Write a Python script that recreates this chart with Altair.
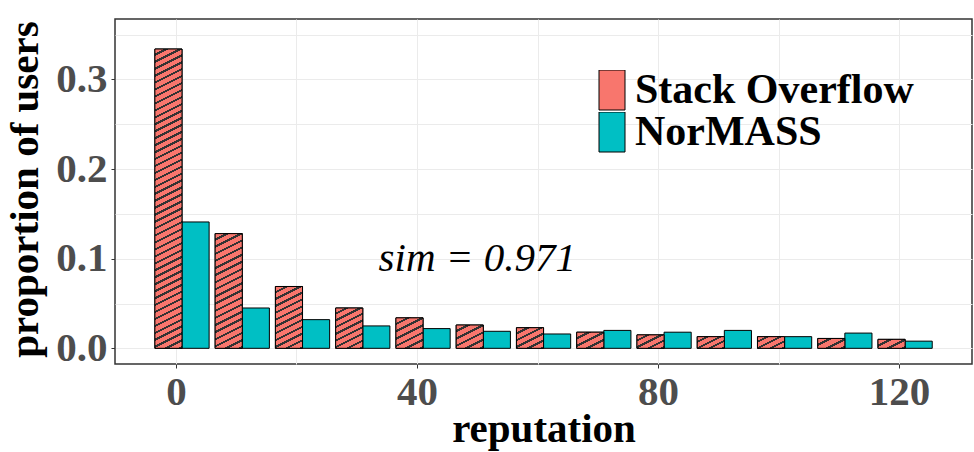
import altair as alt
import pandas as pd

# ---------------- data ----------------
reputation = [1, 11, 21, 31, 41, 51, 61, 71, 81, 91, 101, 111, 121]
stack_overflow = [0.334, 0.128, 0.069, 0.045, 0.034, 0.026, 0.023, 0.018, 0.015, 0.013, 0.013, 0.011, 0.010]
normass = [0.141, 0.045, 0.032, 0.025, 0.022, 0.019, 0.016, 0.020, 0.018, 0.020, 0.013, 0.017, 0.008]
series = ["Stack Overflow", "NorMASS"]
x_ticks = [0, 40, 80, 120]
y_ticks = [0.0, 0.1, 0.2, 0.3]
annotation_text = ["sim = 0.971"]
annotation_x = [50]
annotation_y = [0.1]

# ---------------- styling ----------------
FONT = "Liberation Serif"
SO_COLOR = "#F8766D"
NM_COLOR = "#00BFC4"
HATCH_COLOR = "#333333"
W, H = 857, 345
X_DOMAIN = [-10.12, 132.1]
Y_DOMAIN = [-0.0175, 0.3675]
BAR_W = 4.5
PERIOD = 7.0   # px between hatch lines (vertical)
SLOPE = 0.5    # rise of hatch lines per px
DARK_FRAC = 0.32

x_grid = sorted(set(x_ticks + [(a + b) / 2 for a, b in zip(x_ticks[:-1], x_ticks[1:])]))
y_grid = sorted(set(y_ticks + [round(v + 0.05, 2) for v in y_ticks]))

rows = []
for r, a, b in zip(reputation, stack_overflow, normass):
    rows.append({"reputation": r, "source": series[0], "proportion": a})
    rows.append({"reputation": r, "source": series[1], "proportion": b})
df = pd.DataFrame(rows)

px_y = H / (Y_DOMAIN[1] - Y_DOMAIN[0])
px_x = W / (X_DOMAIN[1] - X_DOMAIN[0])
bw = BAR_W * px_x


def hatch_px(h, w):
    h = max(h, 1.0)
    vx = SLOPE * w / h
    k = (vx + 1) / (1 + vx * vx)
    n = max(1, round(h * (vx + 1) / PERIOD))
    stops = []
    for i in range(n):
        a = i / n
        b = (i + 1 - DARK_FRAC) / n
        c = (i + 1) / n
        stops += [
            {"offset": a, "color": SO_COLOR},
            {"offset": b, "color": SO_COLOR},
            {"offset": b, "color": HATCH_COLOR},
            {"offset": c, "color": HATCH_COLOR},
        ]
    return {"gradient": "linear", "x1": 0, "y1": 0, "x2": vx * k, "y2": k, "stops": stops}


def hatch(value):
    return hatch_px(value * px_y, bw)


xscale = alt.Scale(domain=X_DOMAIN, nice=False, zero=False)
yscale = alt.Scale(domain=Y_DOMAIN, nice=False, zero=False)

x_axis = alt.Axis(
    values=x_grid,
    labelExpr="datum.value % 40 === 0 ? datum.label : ''",
    tickOpacity={"condition": {"test": "datum.value % 40 !== 0", "value": 0}, "value": 1},
    labelPadding=4,
    titleY=77,
    titleBaseline="alphabetic",
)
y_axis = alt.Axis(
    values=y_grid,
    format=".1f",
    labelExpr="abs(datum.value * 10 - round(datum.value * 10)) > 0.01 ? '' : datum.label",
    tickOpacity={"condition": {"test": "abs(datum.value * 10 - round(datum.value * 10)) > 0.01", "value": 0}, "value": 1},
    labelPadding=4,
    titleX=-90,
    titleY=170,
    titleAlign="center",
    titleBaseline="middle",
)

base = alt.Chart(df).transform_calculate(
    x0=f"datum.source === '{series[0]}' ? datum.reputation - {BAR_W} : datum.reputation",
    x1=f"datum.source === '{series[0]}' ? datum.reputation : datum.reputation + {BAR_W}",
)

bars = base.mark_bar(stroke="black", strokeWidth=1).encode(
    x=alt.X("x0:Q", scale=xscale, axis=x_axis, title="reputation"),
    x2="x1:Q",
    y=alt.Y("proportion:Q", scale=yscale, axis=y_axis, title="proportion of users"),
    y2=alt.datum(0),
    color=alt.Color(
        "source:N",
        scale=alt.Scale(domain=series, range=[SO_COLOR, NM_COLOR]),
        sort=series,
        legend=alt.Legend(
            title=None,
            orient="none",
            legendX=476,
            legendY=51,
            symbolType="M-0.65,-1H0.65V1H-0.65Z",
            symbolSize=1600,
            symbolStrokeColor="black",
            symbolStrokeWidth=1,
            symbolOpacity=1,
            labelFont=FONT,
            labelFontSize=42,
            labelFontWeight="bold",
            labelColor="black",
            labelOffset=2,
            labelLimit=500,
            rowPadding=0,
            clipHeight=40,
            padding=0,
        ),
    ),
)

fill_cond = alt.FillValue(
    value=SO_COLOR,
    condition=[
        {"test": f"datum.reputation === {r}", "value": hatch(v)}
        for r, v in zip(reputation, stack_overflow)
    ],
)

stripes = base.transform_filter(f"datum.source === '{series[0]}'").mark_bar(
    stroke="black", strokeWidth=1
).encode(
    x=alt.X("x0:Q", scale=xscale, title="reputation"),
    x2="x1:Q",
    y=alt.Y("proportion:Q", scale=yscale, title="proportion of users"),
    y2=alt.datum(0),
    fill=fill_cond,
)

ann_df = pd.DataFrame({"x": annotation_x, "y": annotation_y, "t": annotation_text})
text = alt.Chart(ann_df).mark_text(
    font=FONT, fontSize=41, fontStyle="italic", align="center", baseline="middle", color="black"
).encode(
    x=alt.X("x:Q", scale=xscale, title="reputation"),
    y=alt.Y("y:Q", scale=yscale, title="proportion of users"),
    text="t:N",
)

chart = alt.layer(bars, stripes, text).properties(
    width=W,
    height=H,
    autosize=alt.AutoSizeParams(type="none"),
    padding={"left": 115, "top": 19, "right": 2, "bottom": 88},
    background="white",
).configure_view(
    stroke="#333333", strokeWidth=1.5
).configure_axis(
    labelFont=FONT,
    labelFontSize=41,
    labelFontWeight="bold",
    labelColor="#4D4D4D",
    titleFont=FONT,
    titleFontSize=41,
    titleFontWeight="bold",
    titleColor="black",
    tickColor="#333333",
    tickSize=4,
    tickWidth=1,
    domain=False,
    grid=True,
    gridColor="#EBEBEB",
    gridWidth=1,
)

chart.save("out.html", embed_options={"renderer": "svg", "actions": False})
